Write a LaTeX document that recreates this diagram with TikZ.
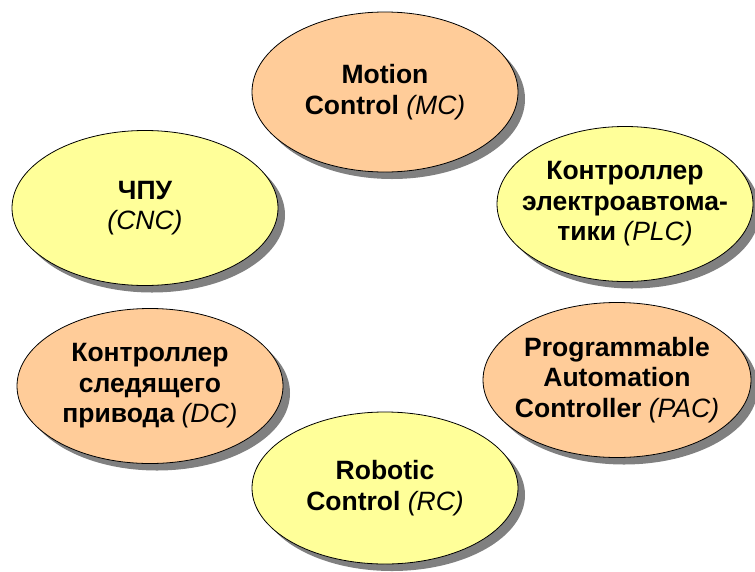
\documentclass[tikz,border=0pt]{standalone}
\usepackage{fontspec}
\setmainfont{Liberation Sans}
\usetikzlibrary{shapes.geometric, shadows}
\definecolor{peach}{HTML}{FFCC99}
\definecolor{paleyellow}{HTML}{FFFF99}
\newcommand{\abbr}[1]{{\mdseries\itshape(#1)}}

\begin{document}
\begin{tikzpicture}[
                x=1pt, y=-1pt,
                font=\fontsize{26.5}{30.5}\selectfont\bfseries,
                oval/.style={ellipse, draw, line width=0.8pt, align=center, inner sep=-30pt, minimum width=266pt, minimum height=155pt, drop shadow={shadow xshift=7pt, shadow yshift=-7pt, fill=black!50, opacity=1}},
                peachoval/.style={oval, fill=peach},
                yellowoval/.style={oval, fill=paleyellow}
            ]
            \useasboundingbox (0,0) rectangle (755,571);
            \node (mc) [peachoval, minimum height=160pt] at (385,92) {Motion\\Control \abbr{MC}};
            \node (cnc) [yellowoval] at (145,208) {ЧПУ\\\abbr{CNC}};
            \node (plc) [yellowoval, minimum width=256pt] at (625,204) {Контроллер\\электроавтома-\\тики \abbr{PLC}};
            \node (dc) [peachoval] at (150,386) {Контроллер\\следящего\\привода \abbr{DC}};
            \node (pac) [peachoval, minimum width=268pt] at (617,380) {Programmable\\Automation\\Controller \abbr{PAC}};
            \node (rc) [yellowoval, minimum height=152pt] at (385,488) {Robotic\\Control \abbr{RC}};
            \end{tikzpicture}
\end{document}
